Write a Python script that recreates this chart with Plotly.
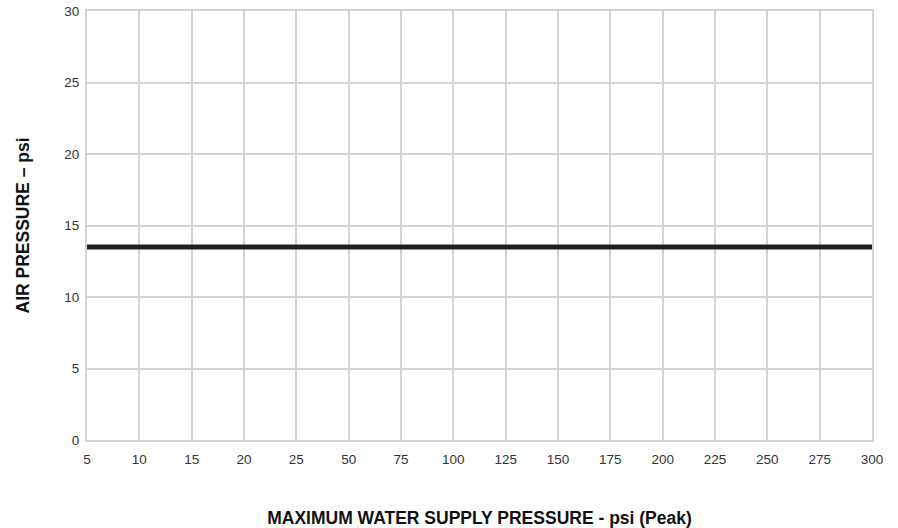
import plotly.graph_objects as go

# Data
x_labels = ["5", "10", "15", "20", "25", "50", "75", "100", "125", "150",
            "175", "200", "225", "250", "275", "300"]
air_pressure = [13.5] * len(x_labels)
y_ticks = [0, 5, 10, 15, 20, 25, 30]

GRID = "#d3d3d3"
TXT = "#333333"

fig = go.Figure()
fig.add_trace(go.Scatter(
    x=x_labels, y=air_pressure, mode="lines",
    line=dict(color="#231f20", width=5),
    hoverinfo="skip", showlegend=False,
))

fig.update_layout(
    width=898, height=528,
    margin=dict(l=87, r=26, t=11, b=88, autoexpand=False),
    paper_bgcolor="white", plot_bgcolor="white",
    font=dict(family="Liberation Sans, Arial, sans-serif", size=13, color=TXT),
    xaxis=dict(
        type="category", range=[0, len(x_labels) - 1],
        showgrid=True, gridcolor=GRID, gridwidth=2,
        showline=True, linecolor=GRID, linewidth=2, mirror=True,
        ticks="outside", ticklen=6, tickcolor="rgba(0,0,0,0)",
        tickfont=dict(size=13.5, color=TXT),
        zeroline=False, automargin=False,
        title=dict(text="<b>MAXIMUM WATER SUPPLY PRESSURE - psi (Peak)</b>",
                   font=dict(size=17.5, color="#111111"), standoff=47),
    ),
    yaxis=dict(
        range=[0, 30], tickvals=y_ticks,
        showgrid=True, gridcolor=GRID, gridwidth=2,
        showline=True, linecolor=GRID, linewidth=2, mirror=True,
        ticks="outside", ticklen=3, tickcolor="rgba(0,0,0,0)",
        tickfont=dict(size=13.5, color=TXT),
        zeroline=False, automargin=False,
        title=dict(text="<b>AIR PRESSURE – psi</b>",
                   font=dict(size=17.5, color="#111111"), standoff=30),
    ),
)

fig.write_html(
    "out.html",
    config={"displayModeBar": False},
    post_script="document.body.style.margin='0';document.body.style.overflow='hidden';",
)
